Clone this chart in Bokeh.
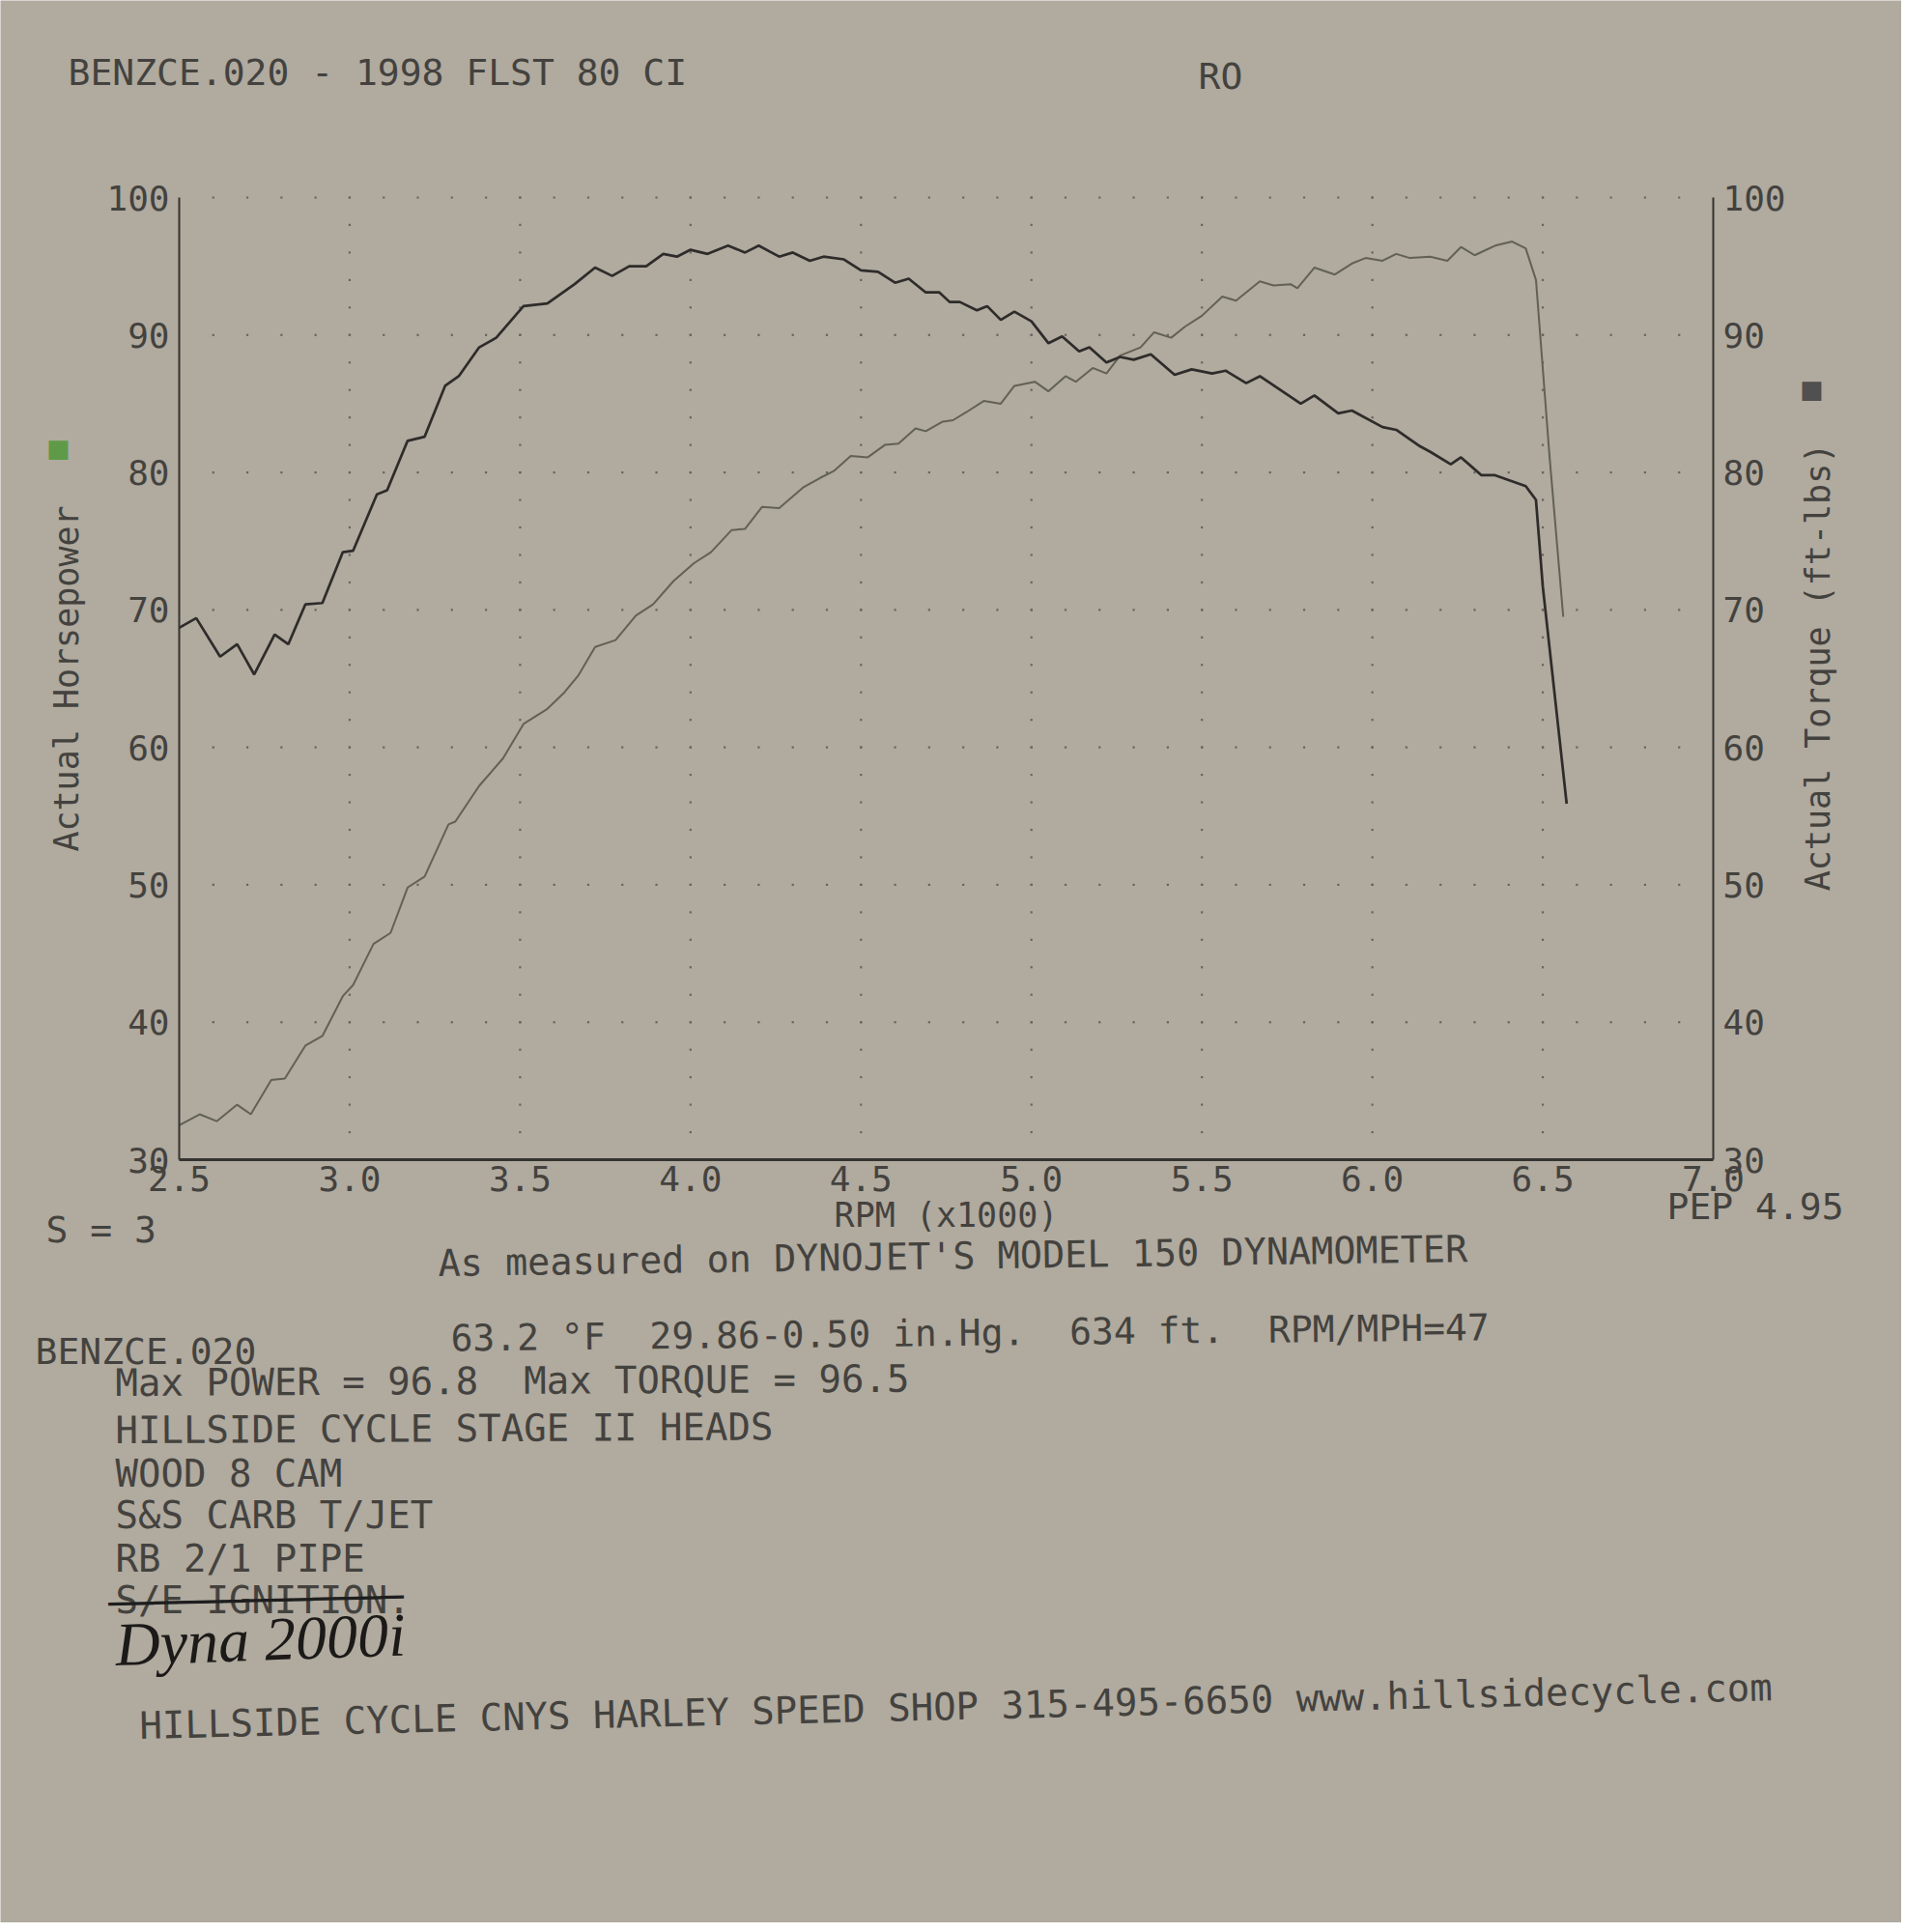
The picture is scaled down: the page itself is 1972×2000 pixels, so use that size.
import math
import numpy as np
from bokeh.plotting import figure
from bokeh.models import Range1d, LinearAxis, FixedTicker, Label, NumeralTickFormatter
from bokeh.embed import file_html
from bokeh.resources import INLINE

# ---------------- data ----------------
rpm_torque = [2.50, 2.55, 2.62, 2.67, 2.72, 2.78, 2.82, 2.87, 2.92, 2.98, 3.01, 3.08, 3.11, 3.17,
              3.22, 3.28, 3.32, 3.38, 3.43, 3.51, 3.58, 3.66, 3.72, 3.77, 3.82, 3.87, 3.92, 3.96,
              4.00, 4.05, 4.11, 4.16, 4.20, 4.26, 4.30, 4.35, 4.39, 4.45, 4.50, 4.55, 4.60, 4.64,
              4.69, 4.73, 4.76, 4.79, 4.84, 4.87, 4.91, 4.95, 5.00, 5.05, 5.09, 5.14, 5.17, 5.22,
              5.26, 5.30, 5.35, 5.42, 5.47, 5.53, 5.57, 5.63, 5.67, 5.73, 5.79, 5.83, 5.90, 5.94,
              6.03, 6.07, 6.14, 6.17, 6.23, 6.26, 6.32, 6.36, 6.45, 6.48, 6.50, 6.57]
torque = [68.7, 69.4, 66.6, 67.5, 65.3, 68.2, 67.5, 70.4, 70.5, 74.2, 74.3, 78.4, 78.7, 82.3,
          82.6, 86.3, 87.0, 89.1, 89.8, 92.1, 92.3, 93.7, 94.9, 94.3, 95.0, 95.0, 95.9, 95.7,
          96.2, 95.9, 96.5, 96.0, 96.5, 95.7, 96.0, 95.4, 95.7, 95.5, 94.7, 94.6, 93.8, 94.1,
          93.1, 93.1, 92.4, 92.4, 91.8, 92.1, 91.1, 91.7, 91.0, 89.4, 89.9, 88.8, 89.1, 88.0,
          88.4, 88.2, 88.6, 87.1, 87.5, 87.2, 87.4, 86.5, 87.0, 86.0, 85.0, 85.6, 84.3, 84.5,
          83.3, 83.1, 81.9, 81.5, 80.6, 81.1, 79.8, 79.8, 79.0, 78.0, 71.7, 55.9]

rpm_hp = [2.50, 2.56, 2.61, 2.67, 2.71, 2.77, 2.81, 2.87, 2.92, 2.98, 3.01, 3.07, 3.12, 3.17,
          3.22, 3.29, 3.31, 3.38, 3.45, 3.51, 3.58, 3.63, 3.67, 3.72, 3.78, 3.84, 3.89, 3.95,
          4.01, 4.06, 4.12, 4.16, 4.21, 4.26, 4.33, 4.38, 4.42, 4.47, 4.52, 4.57, 4.61, 4.66,
          4.69, 4.74, 4.77, 4.81, 4.86, 4.91, 4.95, 5.01, 5.05, 5.10, 5.13, 5.18, 5.22, 5.26,
          5.32, 5.36, 5.41, 5.45, 5.50, 5.56, 5.60, 5.67, 5.71, 5.76, 5.78, 5.83, 5.89, 5.94,
          5.98, 6.03, 6.07, 6.11, 6.17, 6.22, 6.26, 6.30, 6.36, 6.41, 6.45, 6.48, 6.52, 6.56]
hp = [32.5, 33.3, 32.8, 34.0, 33.3, 35.8, 35.9, 38.3, 39.0, 41.9, 42.7, 45.7, 46.5, 49.8,
      50.6, 54.4, 54.6, 57.2, 59.2, 61.7, 62.8, 64.0, 65.2, 67.3, 67.8, 69.6, 70.4, 72.1,
      73.4, 74.2, 75.8, 75.9, 77.5, 77.4, 78.9, 79.6, 80.1, 81.2, 81.1, 82.0, 82.1, 83.2,
      83.0, 83.7, 83.8, 84.4, 85.2, 85.0, 86.3, 86.6, 85.9, 87.0, 86.6, 87.6, 87.2, 88.5,
      89.1, 90.2, 89.8, 90.6, 91.4, 92.8, 92.5, 93.9, 93.6, 93.7, 93.4, 94.9, 94.4, 95.2,
      95.6, 95.4, 95.9, 95.6, 95.7, 95.4, 96.4, 95.8, 96.5, 96.8, 96.3, 94.0, 81.1, 69.5]

x_ticks = [2.5, 3.0, 3.5, 4.0, 4.5, 5.0, 5.5, 6.0, 6.5, 7.0]
y_ticks = [30, 40, 50, 60, 70, 80, 90, 100]

# ---------------- style ----------------
PAPER = "#b0aa9f"
INK = "#44423e"
DOT = "#68655e"
MONO = "DejaVu Sans Mono"
SP = "\u00a0"  # hard space (keeps the printer's double spacing)

W, H = 1968, 1990
# chart area on the page (pixels): x 185..1773, y 204..1200
CX0, CX1, CY0, CY1 = 185, 1773, 204, 1200

def px2x(px):
    return 2.5 + (px - CX0) * 4.5 / (CX1 - CX0)

def py2y(py):
    return 30 + (CY1 - py) * 70 / (CY1 - CY0)

xr = Range1d(px2x(0), px2x(W))
yr = Range1d(py2y(H), py2y(0))

p = figure(width=W, height=H, output_backend="svg", toolbar_location=None,
           x_range=xr, y_range=yr, min_border=0)
p.extra_y_ranges = {"tq": Range1d(py2y(H), py2y(0))}
p.add_layout(LinearAxis(y_range_name="tq"), "right")

p.background_fill_color = PAPER
p.border_fill_color = PAPER
p.outline_line_color = None
p.grid.visible = False

for ax in p.axis:
    ax.major_tick_line_color = None
    ax.minor_tick_line_color = None
    ax.major_tick_out = 0
    ax.major_tick_in = 0
    ax.major_label_text_font = MONO
    ax.major_label_text_font_size = "36px"
    ax.major_label_text_color = INK
    ax.axis_line_color = "#35332f"
    ax.axis_line_width = 2
    ax.major_label_standoff = 10
    ax.axis_label_text_font = MONO
    ax.axis_label_text_font_size = "35px"
    ax.axis_label_text_font_style = "normal"
    ax.axis_label_text_color = INK

xa = p.xaxis[0]
xa.ticker = FixedTicker(ticks=x_ticks)
xa.formatter = NumeralTickFormatter(format="0.0")
xa.fixed_location = 30
xa.bounds = (2.5, 7.0)
xa.axis_line_width = 3
xa.axis_label = "RPM (x1000)"
xa.axis_label_standoff = 2
xa.major_label_standoff = 6

ya, yb = p.yaxis[0], p.yaxis[1]
for ax in (ya, yb):
    ax.ticker = FixedTicker(ticks=y_ticks)
    ax.bounds = (30, 100)
ya.fixed_location = 2.5
yb.fixed_location = 7.0
ya.axis_label = "Actual Horsepower"
ya.axis_label_standoff = 18

# dotted grid: dots every 2 units on the RPM grid lines, every 0.1 on the value grid lines
gx, gy = [], []
for t in x_ticks[1:-1]:
    for v in np.arange(30, 100.01, 2):
        gx.append(t); gy.append(v)
for v in y_ticks[1:]:
    for t in np.arange(2.6, 6.951, 0.1):
        gx.append(t); gy.append(v)
p.scatter(gx, gy, marker="square", size=2.2, color=DOT, line_color=None)

# ---------------- curves ----------------
p.line(rpm_hp, hp, line_color="#626154", line_width=2)
p.line(rpm_torque, torque, y_range_name="tq", line_color="#2e2c2a", line_width=2.7)

# ---------------- text annotations ----------------
def txt(s, px, py, size="38px", color=INK, font=MONO, deg=0.0, align="left", style="normal"):
    p.add_layout(Label(x=px2x(px), y=py2y(py), text=s, text_font=font,
                       text_font_size=size, text_color=color, text_align=align,
                       text_baseline="middle", angle=math.radians(deg), text_font_style=style))

txt("BENZCE.020 - 1998 FLST 80 CI", 70, 74)
txt("RO", 1240, 78)
txt("S = 3", 47, 1272)
txt("PEP 4.95", 1725, 1248)
txt("As measured on DYNOJET'S MODEL 150 DYNAMOMETER", 453, 1307, size="38.5px", deg=0.8)
txt("BENZCE.020", 36, 1398)
txt("63.2 \u00b0F" + SP * 2 + "29.86-0.50 in.Hg." + SP * 2 + "634 ft." + SP * 2 + "RPM/MPH=47",
    466, 1385, deg=0.6)
txt("Max POWER = 96.8" + SP * 2 + "Max TORQUE = 96.5", 119, 1431, size="39px", deg=0.3)
txt("HILLSIDE CYCLE STAGE II HEADS", 119, 1480, size="39px", deg=0.3)
txt("WOOD 8 CAM", 119, 1525, size="39px")
txt("S&S CARB T/JET", 119, 1568, size="39px")
txt("RB 2/1 PIPE", 119, 1613, size="39px")
txt("S/E IGNITION.", 119, 1656, size="39px")
txt("\u2500" * 13, 112, 1660, size="39px", color="#1e1e1e", deg=1.4)
txt("Dyna 2000i", 119, 1702, size="64px", color="#1c1a18", font="Liberation Serif", deg=2.0, style="italic")
txt("HILLSIDE CYCLE CNYS HARLEY SPEED SHOP 315-495-6650 www.hillsidecycle.com",
    144, 1786, size="39px", deg=1.35)

# right axis title (reads bottom-to-top) and legend swatches
txt("Actual Torque (ft-lbs)", 1881, 690, size="35px", deg=90, align="center")
txt("\u25a0", 60, 463, size="26px", color="#5f9a48", font="DejaVu Sans", align="center")
txt("\u25a0", 1875, 402, size="26px", color="#505050", font="DejaVu Sans", align="center")

open("out.html", "w").write(file_html(p, INLINE))
